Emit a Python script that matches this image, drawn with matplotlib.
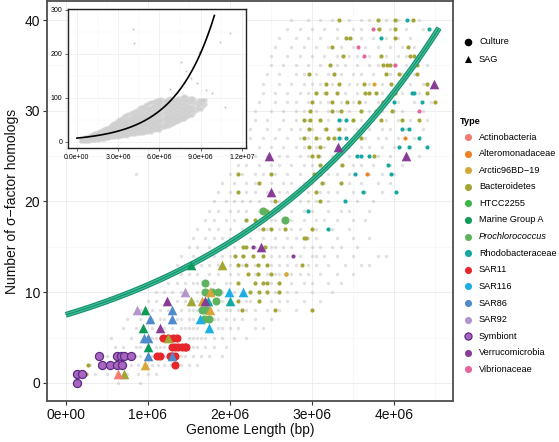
import numpy as np
import matplotlib
matplotlib.use("Agg")
import matplotlib.pyplot as plt
from matplotlib.ticker import MultipleLocator, FixedLocator

plt.rcParams['font.family'] = ['Liberation Sans', 'DejaVu Sans']

# ---- main panel data (genome length in Mbp, sigma factor count) ----
# background genomes: row i holds the genome lengths of genomes with i sigma factors
gray_rows = [
    [0.64, 0.9],
    [0.35, 0.5, 0.62, 0.75, 0.88, 1.0, 1.1],
    [0.3, 0.45, 0.8, 0.88, 0.95, 1.05, 1.12, 1.2, 1.28, 1.4, 1.5, 1.6],
    [0.5, 0.85, 0.9, 1.0, 1.05, 1.2, 1.4, 1.45, 1.55, 1.65, 1.75, 1.9],
    [0.6, 0.7, 0.85, 0.9, 1.1, 1.15, 1.2, 1.55, 1.6, 1.7, 1.8, 1.95],
    [0.55, 0.8, 1.05, 1.1, 1.15, 1.2, 1.5, 1.55, 1.6, 1.65, 1.7, 1.8, 1.9, 2.05, 2.2],
    [0.7, 0.85, 1.05, 1.2, 1.3, 1.4, 1.45, 1.5, 1.55, 1.6, 1.85, 1.9, 2.0, 2.1, 2.3, 2.4],
    [0.75, 0.9, 1.05, 1.15, 1.2, 1.35, 1.4, 1.5, 1.55, 1.8, 1.85, 1.95, 2.05, 2.15, 2.3, 2.5],
    [0.9, 1.05, 1.15, 1.25, 1.4, 1.5, 1.55, 1.6, 1.85, 1.95, 2.0, 2.1, 2.2, 2.3, 2.45, 2.6, 2.8],
    [1.0, 1.1, 1.35, 1.45, 1.55, 1.6, 1.7, 1.9, 2.1, 2.2, 2.25, 2.35, 2.5, 2.6, 2.7, 2.9, 3.1],
    [1.1, 1.2, 1.3, 1.4, 1.6, 1.9, 2.05, 2.25, 2.35, 2.45, 2.55, 2.6, 2.7, 2.8, 3.0, 3.25],
    [1.25, 1.35, 1.45, 1.55, 1.6, 1.8, 1.95, 2.0, 2.1, 2.3, 2.4, 2.5, 2.6, 2.75, 2.9, 3.0, 3.2, 3.35],
    [1.3, 1.4, 1.5, 1.6, 1.75, 1.85, 2.0, 2.1, 2.3, 2.45, 2.55, 2.6, 2.75, 2.85, 2.95, 3.1, 3.3, 3.5],
    [1.35, 1.45, 1.65, 1.75, 1.85, 2.0, 2.15, 2.3, 2.5, 2.6, 2.7, 2.8, 2.95, 3.05, 3.2, 3.4, 3.6, 3.7],
    [1.4, 1.55, 1.7, 1.8, 1.9, 2.0, 2.15, 2.5, 2.6, 2.7, 2.85, 3.0, 3.05, 3.15, 3.3, 3.5, 3.8, 3.9],
    [1.5, 1.6, 1.75, 1.85, 1.95, 2.05, 2.3, 2.5, 2.55, 2.65, 2.75, 2.9, 3.0, 3.1, 3.25, 3.35, 3.55],
    [1.55, 1.7, 1.8, 1.9, 2.0, 2.1, 2.25, 2.4, 2.55, 2.7, 2.8, 2.95, 3.05, 3.3, 3.5, 3.7],
    [1.6, 1.75, 1.85, 2.0, 2.15, 2.25, 2.35, 2.45, 2.6, 2.75, 2.85, 3.05, 3.25, 3.45],
    [1.7, 1.8, 1.95, 2.05, 2.2, 2.3, 2.5, 2.55, 2.65, 2.75, 2.9, 3.05, 3.15, 3.3, 3.5, 3.65],
    [1.75, 1.85, 2.0, 2.1, 2.2, 2.35, 2.45, 2.55, 2.6, 2.75, 2.9, 3.0, 3.2, 3.35, 3.45, 3.7],
    [1.8, 1.95, 2.05, 2.15, 2.25, 2.35, 2.5, 2.6, 2.7, 2.85, 2.95, 3.05, 3.2, 3.4, 3.55, 3.75],
    [1.85, 2.0, 2.2, 2.3, 2.45, 2.6, 2.7, 2.8, 2.95, 3.1, 3.2, 3.3, 3.5, 3.65, 3.85],
    [1.9, 2.05, 2.2, 2.3, 2.5, 2.65, 2.75, 2.9, 3.0, 3.15, 3.35, 3.45, 3.6, 3.8, 3.95],
    [0.86, 2.0, 2.15, 2.3, 2.4, 2.55, 2.7, 2.85, 3.05, 3.2, 3.3, 3.45, 3.7, 3.85, 4.0],
    [2.1, 2.2, 2.35, 2.5, 2.6, 2.75, 2.9, 3.0, 3.2, 3.35, 3.5, 3.6, 3.75, 3.95, 4.1],
    [2.15, 2.3, 2.45, 2.6, 2.7, 2.85, 2.95, 3.1, 3.25, 3.45, 3.55, 3.8, 3.95, 4.15, 4.3],
    [2.2, 2.35, 2.5, 2.65, 2.8, 2.9, 3.05, 3.15, 3.3, 3.45, 3.6, 3.7, 3.85, 4.0, 4.2],
    [2.25, 2.4, 2.55, 2.7, 2.85, 2.95, 3.1, 3.2, 3.35, 3.5, 3.65, 3.8, 3.9, 4.05, 4.25],
    [2.25, 2.45, 2.6, 2.75, 2.85, 3.0, 3.15, 3.3, 3.4, 3.55, 3.7, 3.85, 3.95, 4.15, 4.35],
    [2.3, 2.45, 2.65, 2.8, 2.95, 3.1, 3.2, 3.35, 3.5, 3.6, 3.75, 3.9, 4.05, 4.2, 4.4],
    [2.3, 2.5, 2.65, 2.8, 2.9, 3.05, 3.2, 3.3, 3.45, 3.6, 3.7, 3.85, 4.0, 4.1, 4.35],
    [2.35, 2.55, 2.7, 2.8, 2.95, 3.1, 3.2, 3.35, 3.5, 3.65, 3.8, 3.9, 4.05, 4.25, 4.45],
    [2.4, 2.55, 2.7, 2.85, 2.95, 3.15, 3.3, 3.4, 3.55, 3.7, 3.85, 3.95, 4.1, 4.3],
    [2.4, 2.6, 2.75, 2.9, 3.0, 3.1, 3.25, 3.45, 3.55, 3.7, 3.85, 4.05, 4.2, 4.35],
    [2.45, 2.6, 2.8, 2.9, 3.05, 3.2, 3.35, 3.5, 3.6, 3.75, 3.95, 4.1, 4.25],
    [2.5, 2.65, 2.8, 2.95, 3.1, 3.3, 3.4, 3.55, 3.7, 3.8, 4.0, 4.15, 4.4],
    [2.5, 2.7, 2.85, 3.0, 3.15, 3.3, 3.45, 3.55, 3.7, 3.9, 4.05, 4.15],
    [2.55, 2.75, 2.9, 3.05, 3.2, 3.35, 3.5, 3.65, 3.8, 3.95, 4.1, 4.25],
    [2.6, 2.8, 2.95, 3.1, 3.3, 3.45, 3.6, 3.75, 3.9, 4.05, 4.2],
    [2.7, 2.85, 3.0, 3.15, 3.3, 3.5, 3.6, 3.8, 3.95, 4.15, 4.35],
    [2.75, 2.95, 3.1, 3.25, 3.45, 3.6, 3.7, 3.9, 4.05, 4.3],
]

type_names = ['Actinobacteria', 'Alteromonadaceae', 'Arctic96BD\u221219', 'Bacteroidetes',
              'HTCC2255', 'Marine Group A', 'Prochlorococcus', 'Rhodobacteraceae',
              'SAR11', 'SAR116', 'SAR86', 'SAR92', 'Symbiont', 'Verrucomicrobia', 'Vibrionaceae']
type_colors = ['#F37B70', '#EF8224', '#D9A63A', '#A3A536', '#3EB549', '#0A9C57', '#5FB35E',
               '#14A8A2', '#E6262A', '#1DAEE5', '#4F8ACB', '#B596CB', '#A866C0', '#873C96', '#E5649D']

# small culture points (x, y)
bact_x = [0.27, 0.25, 0.6, 2.06, 2.16, 2.28, 2.4, 2.1, 2.2, 2.34, 2.45, 2.22, 2.34, 2.5, 2.1, 2.3, 2.45,
          2.16, 2.2, 2.4, 2.5, 2.2, 2.3, 2.45, 2.55, 2.1, 2.35, 2.1, 2.5, 2.68, 2.88, 2.43, 2.93, 2.9,
          2.67, 3.0, 3.0, 2.35, 2.6, 2.25, 2.45, 2.1, 2.35, 2.55, 2.15, 2.4, 2.6,
          3.1, 3.05, 3.02, 3.06, 3.1, 2.95, 3.12, 3.35, 3.1, 3.37, 3.0, 3.08, 3.76, 2.96, 3.1,
          2.9, 3.05, 3.2, 3.27, 3.6, 2.96, 3.17, 3.33, 2.9, 2.98, 3.1, 3.5, 3.84, 4.1, 4.3,
          2.98, 3.24, 3.35, 3.6, 3.78, 3.98, 3.0, 3.25, 3.43, 3.57, 4.5,
          3.05, 3.17, 3.31, 3.65, 3.7, 3.78, 4.01, 4.4, 3.17, 3.33, 3.63, 3.97, 4.4,
          2.96, 3.27, 3.9, 4.06, 4.28, 3.22, 3.87, 3.92, 3.95, 4.28,
          3.38, 3.84, 4.2, 4.25, 4.3, 3.24, 4.17, 3.41, 3.47, 4.01, 4.01, 3.82,
          3.33, 3.8, 4.01, 4.23]
bact_y = [2, 1, 2, 14, 14, 14, 14, 13, 13, 13, 13, 12, 12, 12, 11, 11, 11,
          15, 15, 17, 17, 18, 18, 19, 20, 21, 22, 23, 23, 12, 13, 15, 16, 16,
          17, 17, 8, 10, 10, 10, 10, 9, 9, 8, 8, 11, 11,
          20, 21, 23, 23, 23, 22, 22, 22, 24, 24, 25, 25, 25, 26, 26,
          27, 27, 27, 27, 27, 28, 28, 28, 29, 29, 29, 29, 29, 29, 29,
          30, 30, 30, 30, 30, 30, 31, 31, 31, 31, 31,
          32, 32, 32, 32, 32, 32, 32, 32, 33, 33, 33, 33, 33,
          34, 34, 34, 34, 34, 35, 35, 35, 35, 35,
          36, 36, 36, 36, 36, 37, 37, 38, 38, 38, 39, 39,
          40, 40, 40, 40]
rhodo_x = [3.2, 3.33, 3.41, 4.1, 4.18, 3.33, 3.41, 4.3, 4.06, 4.18, 4.4, 3.55, 3.6, 3.7, 3.93,
           3.53, 3.96, 3.62, 4.02, 4.0, 4.34, 4.22, 4.24, 3.84, 4.16, 4.43, 2.95, 3.4]
rhodo_y = [17, 29, 29, 28, 28, 27, 27, 27, 26, 26, 26, 25, 25, 25, 24,
           23, 23, 21, 21, 31, 31, 32, 32, 38, 40, 39, 19, 20]
vibrio_x = [3.74, 3.56, 3.63, 4.01, 4.3]
vibrio_y = [39, 37, 36, 35, 30]
altero_x = [3.87, 4.13, 3.67, 4.3]
altero_y = [31, 27, 23, 36]
arctic_x = [3.76, 2.68]
arctic_y = [33, 12]
verru_x = [2.77, 2.28]
verru_y = [14, 15]

# larger culture circles
symb_x = [0.13, 0.13, 0.2, 0.44, 0.54, 0.62, 0.69, 0.41, 0.62, 0.67, 0.71, 0.79]
symb_y = [0, 1, 1, 2, 2, 2, 2, 3, 3, 3, 3, 3]
sar11_x = [1.19, 1.25, 1.31, 1.36, 1.29, 1.33, 1.37, 1.41, 1.45, 1.47, 1.11, 1.15, 1.27, 1.3, 1.33, 1.33]
sar11_y = [5, 5, 5, 5, 4, 4, 4, 4, 4, 4, 3, 3, 3, 3, 3, 2]
pro_x = [1.7, 1.7, 1.78, 1.85, 1.83, 1.66, 1.7, 1.72, 1.69, 1.74, 2.4, 2.67]
pro_y = [11, 10, 10, 10, 9, 8, 8, 8, 7, 7, 19, 18]

# SAG triangles per type
sag = {
    'Marine Group A': ([1.0, 0.94, 0.96, 1.52], [4, 6, 8, 13]),
    'SAR92': ([0.87, 1.45], [8, 10]),
    'SAR86': ([1.02, 0.95, 1.0, 1.0, 1.3, 1.3, 1.3], [7, 5, 5, 3, 8, 7, 3]),
    'Arctic96BD\u221219': ([0.97, 1.66, 1.76, 1.76], [2, 9, 8, 10]),
    'Bacteroidetes': ([1.24, 0.71, 1.52, 1.9], [5, 1, 9, 13]),
    'Actinobacteria': ([0.64], [1]),
    'SAR116': ([1.63, 1.74, 1.99, 2.16], [7, 6, 10, 10]),
    'Rhodobacteraceae': ([2.0, 1.73], [9, 9]),
    'Verrucomicrobia': ([1.15, 1.23, 1.7, 2.38, 2.48, 2.5, 3.32, 4.15, 4.49],
                        [6, 9, 9, 15, 25, 21, 26, 25, 33]),
}

# fitted exponential trend (log link): y = exp(b0 + b1 * x)
main_b0, main_b1 = np.log(7.5), 0.363
main_fit_x = [0.0, 4.55]

# ---- inset data (genome length in Mbp, sigma factor count) ----
inset_cols = [0.3, 0.45, 0.6, 0.75, 0.9, 1.05, 1.2, 1.35, 1.5, 1.65, 1.8, 1.95, 2.1, 2.25, 2.4, 2.55,
              2.7, 2.85, 3.0, 3.15, 3.3, 3.45, 3.6, 3.75, 3.9, 4.05, 4.2, 4.35, 4.5, 4.65, 4.8, 4.95,
              5.1, 5.25, 5.4, 5.55, 5.7, 5.85, 6.0, 6.15, 6.3, 6.45, 6.6, 6.75, 6.9, 7.05, 7.2, 7.35,
              7.5, 7.65, 7.8, 7.95, 8.1, 8.25, 8.4, 8.55, 8.7, 8.85, 9.0, 9.15, 9.3]
inset_vals = [
    [2, 4, 6], [3, 5, 7], [3, 5, 8, 10], [3, 6, 9, 12], [3, 6, 8, 11, 14], [4, 7, 10, 13, 16],
    [4, 7, 9, 12, 15, 18], [5, 8, 11, 14, 17, 21], [5, 8, 10, 13, 16, 20, 23],
    [6, 9, 13, 16, 20, 24], [6, 9, 12, 15, 18, 22, 26], [7, 11, 14, 18, 21, 25, 29],
    [8, 11, 14, 17, 20, 24, 28, 31], [9, 12, 16, 20, 23, 27, 32], [10, 13, 16, 19, 22, 26, 31, 35],
    [11, 14, 18, 22, 26, 30, 35, 40], [12, 15, 18, 21, 25, 29, 33, 38, 42],
    [13, 16, 20, 24, 28, 33, 38, 44], [12, 16, 20, 24, 28, 33, 38, 44, 50],
    [14, 18, 22, 26, 30, 35, 40, 47, 52], [14, 18, 23, 27, 31, 36, 42, 48, 55],
    [15, 20, 25, 29, 34, 39, 45, 52, 58], [14, 19, 24, 29, 34, 40, 46, 53, 60],
    [16, 21, 27, 31, 36, 42, 48, 55, 63], [17, 22, 28, 33, 38, 44, 50, 57, 66],
    [18, 23, 29, 34, 40, 46, 52, 59, 68], [17, 22, 28, 34, 40, 47, 54, 62, 70],
    [19, 25, 31, 37, 43, 49, 56, 64, 73], [20, 26, 32, 38, 45, 52, 59, 67, 76],
    [21, 27, 34, 40, 47, 54, 62, 70, 79], [20, 26, 32, 39, 46, 54, 62, 70, 80],
    [22, 28, 35, 42, 49, 57, 65, 74, 84], [23, 29, 36, 43, 51, 59, 67, 76, 86],
    [24, 31, 38, 45, 53, 61, 69, 78, 88], [23, 30, 37, 45, 53, 61, 70, 80, 90],
    [26, 33, 40, 48, 56, 64, 73, 82, 91], [27, 35, 43, 50, 58, 66, 75, 84, 93],
    [29, 37, 45, 52, 60, 68, 77, 86, 95], [28, 36, 44, 52, 61, 70, 79, 88, 96],
    [31, 39, 47, 55, 63, 72, 81, 90, 98], [33, 41, 49, 57, 65, 74, 83, 92],
    [35, 43, 51, 59, 67, 76, 85, 94], [36, 44, 52, 61, 70, 79, 88, 97],
    [39, 47, 55, 63, 72, 81, 90, 99], [41, 49, 57, 66, 75, 84, 93],
    [43, 51, 59, 68, 77, 86, 95], [45, 53, 62, 71, 80, 89, 98],
    [47, 55, 64, 73, 82, 91, 100], [50, 58, 67, 76, 85, 94],
    [51, 59, 68, 77, 86, 95, 103], [52, 60, 69, 78, 87, 96, 105],
    [56, 64, 73, 82, 92, 101], [59, 68, 77, 86, 95], [62, 71, 80, 90, 99],
    [62, 72, 82, 92, 100], [68, 78, 88, 97], [72, 82, 91], [76, 86, 95],
    [75, 85, 95], [82, 92], [86, 96],
]
inset_out_x = [4.07, 4.15, 7.6, 11.1, 10.4, 8.7, 9.2, 9.4, 7.9, 8.3, 6.8, 10.8, 9.8, 8.9]
inset_out_y = [257, 225, 182, 247, 227, 134, 98, 118, 160, 145, 120, 80, 110, 205]
inset_b0, inset_b1 = np.log(8.5), 0.352
inset_fit_x = [0.0, 10.0]

# ---- figure ----
W, H = 559, 442
fig = plt.figure(figsize=(W / 100, H / 100), dpi=100)
ax = fig.add_axes([47 / W, 1 - 401 / H, 406 / W, 400 / H])

ax.set_xlim(-0.23, 4.72)
ax.set_ylim(-2, 42.1)
ax.xaxis.set_major_locator(FixedLocator([0, 1, 2, 3, 4]))
ax.xaxis.set_minor_locator(MultipleLocator(0.5))
ax.yaxis.set_major_locator(FixedLocator([0, 10, 20, 30, 40]))
ax.yaxis.set_minor_locator(MultipleLocator(5))
ax.set_xticklabels(['0e+00', '1e+06', '2e+06', '3e+06', '4e+06'])
ax.grid(which='major', color='#ebebeb', lw=0.6)
ax.grid(which='minor', color='#f4f4f4', lw=0.4)
ax.set_axisbelow(True)
ax.tick_params(which='minor', length=0)
ax.tick_params(which='major', length=3, width=0.8, color='#333333', labelsize=10,
               labelcolor='#111111', pad=2)
for s in ax.spines.values():
    s.set_color('#4d4d4d')
    s.set_linewidth(1.3)
ax.set_xlabel('Genome Length (bp)', fontsize=10, color='#111111', labelpad=1)
ax.set_ylabel('Number of \u03c3\u2212factor homologs', fontsize=10, color='#111111', labelpad=4)

gx = [x for row in gray_rows for x in row]
gy = [i for i, row in enumerate(gray_rows) for _ in row]
ax.scatter(gx, gy, s=6, color='#bdbdbd', alpha=0.45, lw=0, zorder=1)

col = dict(zip(type_names, type_colors))
for xs, ys, name in [(bact_x, bact_y, 'Bacteroidetes'), (rhodo_x, rhodo_y, 'Rhodobacteraceae'),
                     (vibrio_x, vibrio_y, 'Vibrionaceae'), (altero_x, altero_y, 'Alteromonadaceae'),
                     (arctic_x, arctic_y, 'Arctic96BD\u221219'), (verru_x, verru_y, 'Verrucomicrobia')]:
    ax.scatter(xs, ys, s=9, color=col[name], lw=0, zorder=2)

fx = np.linspace(main_fit_x[0], main_fit_x[1], 200)
fy = np.exp(main_b0 + main_b1 * fx)
ax.plot(fx, fy, color='#0f8f6a', lw=4.2, solid_capstyle='butt', zorder=3)
ax.plot(fx, fy, color='#45bf9a', lw=2.6, solid_capstyle='butt', zorder=3)
ax.plot(fx, fy, color='#12936e', lw=0.9, solid_capstyle='butt', zorder=3)

ax.scatter(symb_x, symb_y, s=34, color=col['Symbiont'], edgecolor='#5D2C84', lw=0.9, zorder=4)
ax.scatter(sar11_x, sar11_y, s=34, color=col['SAR11'], lw=0, zorder=4)
ax.scatter(pro_x, pro_y, s=34, color=col['Prochlorococcus'], lw=0, zorder=4)
for name, (xs, ys) in sag.items():
    ax.scatter(xs, ys, s=48, marker='^', color=col[name], lw=0, zorder=5)

# ---- inset ----
ins = fig.add_axes([68 / W, 1 - 148 / H, 178 / W, 139 / H])
ins.set_facecolor('white')
ix = [x for x, vals in zip(inset_cols, inset_vals) for _ in vals]
iy = [v for vals in inset_vals for v in vals]
ins.scatter(ix, iy, s=10, color='#cfcfcf', lw=0, alpha=0.8, zorder=1)
ins.scatter(inset_out_x, inset_out_y, s=2, color='#c4c4c4', lw=0, zorder=1)
ifx = np.linspace(inset_fit_x[0], inset_fit_x[1], 200)
ins.plot(ifx, np.exp(inset_b0 + inset_b1 * ifx), color='black', lw=1.2, zorder=2)
ins.set_xlim(-0.65, 12.3)
ins.set_ylim(-14, 302)
ins.xaxis.set_major_locator(FixedLocator([0, 3, 6, 9, 12]))
ins.set_xticklabels(['0.0e+00', '3.0e+06', '6.0e+06', '9.0e+06', '1.2e+07'])
ins.xaxis.set_minor_locator(MultipleLocator(1.5))
ins.yaxis.set_major_locator(FixedLocator([0, 100, 200, 300]))
ins.yaxis.set_minor_locator(MultipleLocator(50))
ins.grid(which='major', color='#ebebeb', lw=0.5)
ins.grid(which='minor', color='#f5f5f5', lw=0.3)
ins.set_axisbelow(True)
ins.tick_params(which='minor', length=0)
ins.tick_params(which='major', length=2, width=0.5, labelsize=5, color='#333333', pad=2)
for s in ins.spines.values():
    s.set_color('#222222')
    s.set_linewidth(1.0)

# ---- legend ----
leg = fig.add_axes([0, 0, 1, 1], facecolor='none')
leg.set_xlim(0, W)
leg.set_ylim(H, 0)
leg.axis('off')
fs = 6.6
leg.scatter([468], [42], s=30, color='black', lw=0)
leg.scatter([468], [59], s=26, marker='^', color='black', lw=0)
leg.text(479, 42, 'Culture', fontsize=fs, va='center')
leg.text(479, 59, 'SAG', fontsize=fs, va='center')
leg.text(460, 122, 'Type', fontsize=fs, fontweight='bold', va='center')
for i, (name, c) in enumerate(zip(type_names, type_colors)):
    y = 137 + i * 16.6
    if name == 'Symbiont':
        leg.scatter([468], [y], s=26, color=c, edgecolor='#5D2C84', lw=0.9)
    else:
        leg.scatter([468], [y], s=26, color=c, lw=0)
    leg.text(479, y, name, fontsize=fs, va='center',
             style='italic' if name == 'Prochlorococcus' else 'normal')

fig.savefig('out.png', dpi=100)
